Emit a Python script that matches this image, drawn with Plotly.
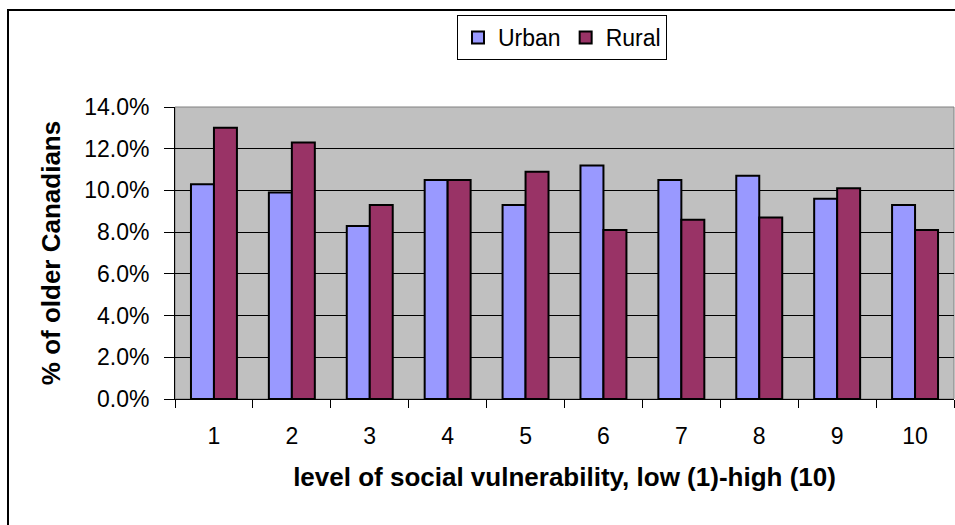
import plotly.graph_objects as go

# Share of older Canadians by social vulnerability decile
levels = ["1", "2", "3", "4", "5", "6", "7", "8", "9", "10"]
urban = [0.103, 0.099, 0.083, 0.105, 0.093, 0.112, 0.105, 0.107, 0.096, 0.093]
rural = [0.130, 0.123, 0.093, 0.105, 0.109, 0.081, 0.086, 0.087, 0.101, 0.081]

y_ticks = [0.0, 0.02, 0.04, 0.06, 0.08, 0.10, 0.12, 0.14]

W, H = 955, 525
L, R, T, B = 175, 1, 107, 126
pw, ph = W - L - R, H - T - B

def px_x(p):
    return (p - L) / pw

def px_y(p):
    return (H - B - p) / ph

FONT = "Liberation Sans, Arial, sans-serif"

fig = go.Figure()
fig.add_trace(go.Bar(
    name="Urban", x=levels, y=urban,
    marker=dict(color="#9999FF", line=dict(color="#000000", width=2)),
))
fig.add_trace(go.Bar(
    name="Rural", x=levels, y=rural,
    marker=dict(color="#993366", line=dict(color="#000000", width=2)),
))

fig.update_layout(
    width=W, height=H,
    margin=dict(l=L, r=R, t=T, b=B, pad=0),
    paper_bgcolor="#FFFFFF",
    plot_bgcolor="#C0C0C0",
    barmode="group",
    bargap=0.41,
    bargroupgap=0,
    font=dict(family=FONT, size=23, color="#000000"),
    showlegend=True,
    legend=dict(
        orientation="h",
        x=px_x(457), y=px_y(15), xanchor="left", yanchor="top",
        bgcolor="#FFFFFF", bordercolor="#000000", borderwidth=1,
        font=dict(family=FONT, size=23, color="#000000"),
        itemsizing="constant",
        traceorder="normal",
    ),
    xaxis=dict(
        type="category",
        tickson="boundaries",
        ticks="outside", ticklen=8, tickwidth=1, tickcolor="#000000",
        showline=True, linecolor="#000000", linewidth=1,
        showgrid=False, zeroline=False,
        tickfont=dict(family=FONT, size=23),
        ticklabelstandoff=16,
        title=dict(
            text="level of social vulnerability, low (1)-high (10)",
            font=dict(family=FONT, size=26, weight="bold"),
            standoff=20,
        ),
    ),
    yaxis=dict(
        range=[0, 0.14],
        tickvals=y_ticks,
        tickformat=".1%",
        ticks="outside", ticklen=10, tickwidth=1, tickcolor="#000000",
        showline=True, linecolor="#000000", linewidth=1,
        showgrid=True, gridcolor="#000000", gridwidth=1,
        zeroline=False,
        tickfont=dict(family=FONT, size=23),
        ticklabelstandoff=10,
        title=dict(
            text="% of older Canadians",
            font=dict(family=FONT, size=26, weight="bold"),
            standoff=16,
        ),
    ),
    shapes=[
        # grey outline of the plotting area
        dict(type="rect", xref="paper", yref="paper", x0=0, x1=1, y0=0, y1=1,
             line=dict(color="#808080", width=1), layer="below"),
        # outer chart frame
        dict(type="rect", xref="paper", yref="paper",
             x0=px_x(8), x1=px_x(965), y0=px_y(535), y1=px_y(10),
             line=dict(color="#000000", width=2), fillcolor="rgba(0,0,0,0)"),
    ],
)

fig.write_html("out.html")
